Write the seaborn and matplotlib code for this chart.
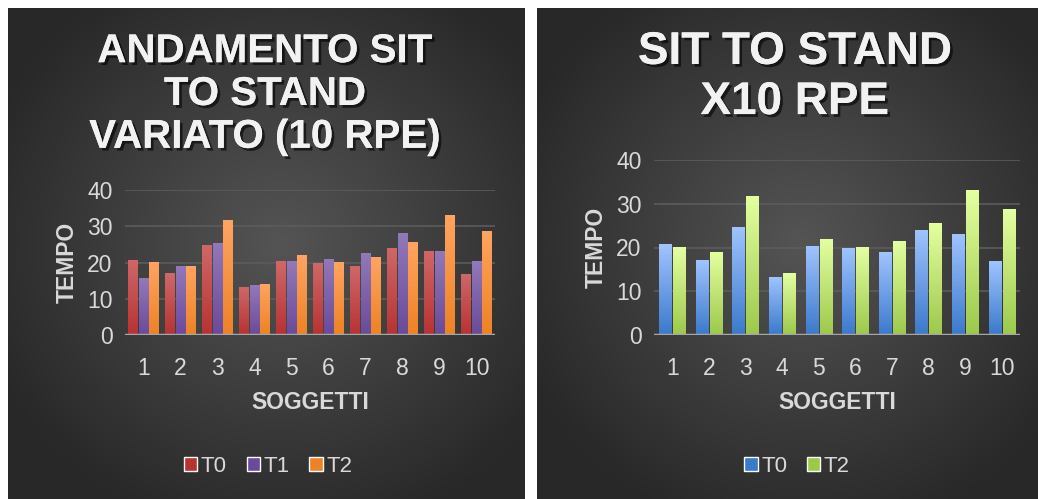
import numpy as np
import pandas as pd
import matplotlib.pyplot as plt
import matplotlib.patheffects as pe
from matplotlib.colors import LinearSegmentedColormap
from matplotlib.patches import Rectangle
import seaborn as sns

SOGGETTI = ["1", "2", "3", "4", "5", "6", "7", "8", "9", "10"]
T0 = [20.7, 17.1, 24.8, 13.3, 20.4, 19.9, 18.9, 24.1, 23.2, 16.9]
T1 = [15.7, 19.0, 25.4, 13.7, 20.4, 21.0, 22.6, 28.1, 23.2, 20.4]
T2 = [20.1, 19.0, 31.8, 14.1, 22.0, 20.1, 21.5, 25.6, 33.1, 28.8]

TITLE_LEFT = "ANDAMENTO SIT\nTO STAND\nVARIATO (10 RPE)"
TITLE_RIGHT = "SIT TO STAND\nX10 RPE"

# gradient colours (top, bottom)
GRAD_LEFT = {"T0": ("#cf6868", "#b83232"), "T1": ("#9279b8", "#6a4a9a"),
             "T2": ("#ffa462", "#ee8224")}
GRAD_RIGHT = {"T0": ("#a0c4ff", "#3b79cc"), "T2": ("#e4ffa0", "#9cc94c")}

TXT = "#d9d9d9"
FIG_W, FIG_H = 1038, 499

sns.set_theme(style="white")
plt.rcParams["font.family"] = ["Liberation Sans", "DejaVu Sans"]


def bg_panel(fig, x0, y0, x1, y1):
    ax = fig.add_axes([x0 / FIG_W, 1 - y1 / FIG_H, (x1 - x0) / FIG_W, (y1 - y0) / FIG_H])
    yy, xx = np.mgrid[0:200, 0:200]
    r = np.sqrt(((xx - 105) / 120.0) ** 2 + ((yy - 95) / 120.0) ** 2)
    g = np.clip(0.33 - 0.17 * r, 0.16, 0.34)
    ax.imshow(np.dstack([g, g, g]), extent=[0, 1, 0, 1], aspect="auto", zorder=0)
    ax.set_axis_off()
    return ax


def gradient_bars(ax, grads, order):
    for name, bars in zip(order, ax.containers):
        top, bot = grads[name]
        cmap = LinearSegmentedColormap.from_list(name, [bot, top])
        for b in bars:
            x, y = b.get_x(), b.get_y()
            w, h = b.get_width(), b.get_height()
            b.set_facecolor("none")
            b.set_edgecolor("none")
            im = ax.imshow(np.linspace(0, 1, 100).reshape(-1, 1), cmap=cmap,
                           extent=[x, x + w, y, y + h], origin="lower",
                           aspect="auto", zorder=3)
            im.set_clip_path(Rectangle((x, y), w, h, transform=ax.transData))


def chart(fig, rect, df, order, grads, width, gap):
    x0, y0, x1, y1 = rect
    ax = fig.add_axes([x0 / FIG_W, 1 - y1 / FIG_H, (x1 - x0) / FIG_W, (y1 - y0) / FIG_H])
    ax.set_facecolor("none")
    sns.barplot(data=df, x="soggetto", y="tempo", hue="serie", hue_order=order,
                width=width, gap=gap, ax=ax, legend=False, zorder=3)
    gradient_bars(ax, grads, order)
    ax.set_xlim(-0.5, 9.5)
    ax.set_ylim(0, 40)
    ax.set_yticks([0, 10, 20, 30, 40])
    ax.grid(axis="y", color="#5c5c5c", linewidth=1.2, zorder=0)
    ax.axhline(0, color="#a6a6a6", linewidth=2.5, zorder=4)
    for s in ax.spines.values():
        s.set_visible(False)
    ax.tick_params(colors=TXT, labelsize=16.5, length=0)
    ax.tick_params(axis="x", pad=16)
    ax.tick_params(axis="y", pad=9)
    ax.set_xlabel("SOGGETTI", color=TXT, fontsize=16.5, fontweight="bold", labelpad=8)
    ax.set_ylabel("TEMPO", color=TXT, fontsize=16.5, fontweight="bold", labelpad=6)
    return ax


def legend(fig, cx, cy, order, grads):
    h = [Rectangle((0, 0), 1, 1, facecolor=grads[k][1]) for k in order]
    fig.legend(h, order, loc="center", bbox_to_anchor=(cx / FIG_W, 1 - cy / FIG_H),
               ncol=len(order), frameon=False, fontsize=16, labelcolor=TXT,
               handlelength=0.6, handleheight=0.6, handletextpad=0.15,
               columnspacing=0.9)


fig = plt.figure(figsize=(FIG_W / 100, FIG_H / 100), dpi=100)
fig.patch.set_facecolor("white")

bg_panel(fig, 8, 8, 525, 499)
bg_panel(fig, 537, 8, 1038, 499)

shadow = [pe.withSimplePatchShadow(offset=(2, -2), shadow_rgbFace="black", alpha=0.6),
          pe.Normal()]

df_left = pd.DataFrame({
    "soggetto": SOGGETTI * 3,
    "tempo": T0 + T1 + T2,
    "serie": ["T0"] * 10 + ["T1"] * 10 + ["T2"] * 10,
})
df_right = pd.DataFrame({
    "soggetto": SOGGETTI * 2,
    "tempo": T0 + T2,
    "serie": ["T0"] * 10 + ["T2"] * 10,
})

chart(fig, (125, 190, 495, 335), df_left, ["T0", "T1", "T2"], GRAD_LEFT, 0.86, 0.08)
chart(fig, (654, 160, 1020, 335), df_right, ["T0", "T2"], GRAD_RIGHT, 0.76, 0.12)

fig.text(265 / FIG_W, 1 - 94 / FIG_H, TITLE_LEFT, ha="center", va="center",
         color="#f2f2f2", fontsize=29, fontweight="bold", linespacing=1.16,
         path_effects=shadow)
fig.text(795 / FIG_W, 1 - 77 / FIG_H, TITLE_RIGHT, ha="center", va="center",
         color="#f2f2f2", fontsize=33, fontweight="bold", linespacing=1.18,
         path_effects=shadow)

legend(fig, 268, 466, ["T0", "T1", "T2"], GRAD_LEFT)
legend(fig, 797, 466, ["T0", "T2"], GRAD_RIGHT)

fig.savefig("out.png", dpi=100)
